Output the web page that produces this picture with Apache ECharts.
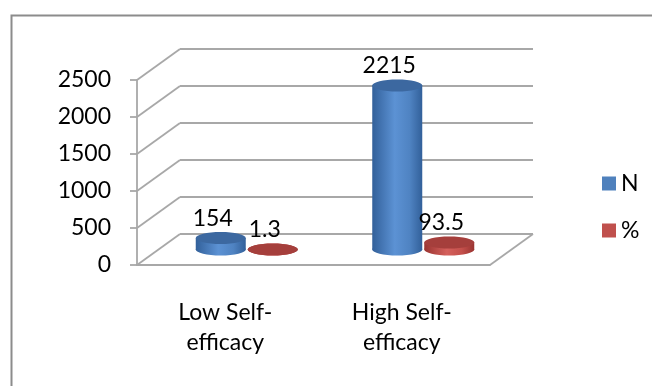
<!DOCTYPE html>
<html>
<head>
<meta charset="utf-8">
<script src="https://cdn.jsdelivr.net/npm/echarts@6/dist/echarts.min.js"></script>
<style>
  html, body { margin: 0; padding: 0; background: #fff; }
  #chart { width: 652px; height: 386px; }
</style>
</head>
<body>
<div id="chart"></div>
<script>
// data
const categories = ["Low Self-\nefficacy", "High Self-\nefficacy"];
const nValues = [154, 2215];
const pctValues = [1.3, 93.5];
const yTicks = [0, 500, 1000, 1500, 2000, 2500];

// fake 3d depth of the excel chart
const DX = 43, DY = -31;
const RX = 25, RY = 6;
const FONT = "Lato";
const FS = 23;
const GRID_COLOR = "#a8a8a8";

// back wall + floor lines
function renderWall(params, api) {
  const cs = params.coordSys;
  const p = api.coord([0, api.value(1)]);
  const y = p[1];
  const x0 = cs.x, x1 = cs.x + cs.width;
  const children = [
    { type: "line", shape: { x1: x0, y1: y, x2: x0 + DX, y2: y + DY },
      style: { stroke: GRID_COLOR, lineWidth: 1.8 } },
    { type: "line", shape: { x1: x0 + DX, y1: y + DY, x2: x1 + DX, y2: y + DY },
      style: { stroke: GRID_COLOR, lineWidth: 1.8 } }
  ];
  if (api.value(1) === 0) {
    children.push({ type: "line", shape: { x1: x1, y1: y, x2: x1 + DX, y2: y + DY },
      style: { stroke: GRID_COLOR, lineWidth: 1.8 } });
  }
  return { type: "group", children: children };
}

// cylinder for one series; side = -1 (left) or 1 (right)
function cylinder(side, c) {
  return function (params, api) {
    const base = api.coord([api.value(0), 0]);
    const top = api.coord([api.value(0), api.value(1)]);
    const cx = base[0] + DX / 2 + side * (RX + 1);
    const by = base[1] + DY / 2;
    const ty = top[1] + DY / 2;
    const body = new echarts.graphic.LinearGradient(0, 0, 1, 0, [
      { offset: 0, color: c.edge },
      { offset: 0.45, color: c.light },
      { offset: 0.75, color: c.mid },
      { offset: 1, color: c.edge }
    ]);
    return {
      type: "group",
      children: [
        { type: "ellipse", shape: { cx: cx, cy: by, rx: RX, ry: RY }, style: { fill: body } },
        { type: "rect", shape: { x: cx - RX, y: ty, width: RX * 2, height: by - ty }, style: { fill: body } },
        { type: "ellipse", shape: { cx: cx, cy: ty, rx: RX, ry: RY }, style: { fill: c.top } },
        { type: "text", x: cx - 8, y: ty - RY - 14,
          style: { text: String(api.value(1)), font: FS + "px " + FONT, fill: "#000",
                   align: "center", verticalAlign: "middle" } }
      ]
    };
  };
}

const blue = { edge: "#32609a", light: "#5c92d4", mid: "#4f83c2", top: "#3c68a0" };
const red = { edge: "#9a3431", light: "#d4605c", mid: "#c4504c", top: "#a53f3c" };

const chart = echarts.init(document.getElementById("chart"));
chart.setOption({
  animation: false,
  backgroundColor: "#fff",
  graphic: [{
    type: "rect", left: 9, top: 13, shape: { width: 700, height: 400 },
    style: { fill: "none", stroke: "#8c8c8c", lineWidth: 2 }, z: -10
  }],
  grid: { left: 137, right: 162, top: 80, bottom: 121 },
  legend: {
    data: ["N", "%"],
    orient: "vertical",
    left: 597, top: 167,
    icon: "rect",
    itemWidth: 14, itemHeight: 14,
    itemGap: 24,
    textStyle: { fontFamily: FONT, fontSize: FS, color: "#000", lineHeight: 23 }
  },
  xAxis: {
    type: "category",
    data: categories,
    axisLine: { lineStyle: { color: GRID_COLOR, width: 1.8 } },
    axisTick: { length: 7, lineStyle: { color: GRID_COLOR, width: 1.8 } },
    axisLabel: { margin: 33, fontFamily: FONT, fontSize: FS, color: "#000", lineHeight: 30 },
    splitLine: { show: false }
  },
  yAxis: {
    type: "value",
    min: 0, max: 2500, interval: 500,
    axisLine: { show: true, lineStyle: { color: GRID_COLOR, width: 1.8 } },
    axisTick: { show: true, length: 7, lineStyle: { color: GRID_COLOR, width: 1.8 } },
    axisLabel: { margin: 26, fontFamily: FONT, fontSize: FS, color: "#000",
                 formatter: v => String(v) },
    splitLine: { show: false }
  },
  series: [
    {
      name: "wall", type: "custom", silent: true, z: 1,
      renderItem: renderWall,
      data: yTicks.map(v => [0, v])
    },
    {
      name: "N", type: "custom", z: 3,
      itemStyle: { color: "#4f81bd" },
      renderItem: cylinder(-1, blue),
      data: nValues.map((v, i) => [i, v])
    },
    {
      name: "%", type: "custom", z: 3,
      itemStyle: { color: "#c0504d" },
      renderItem: cylinder(1, red),
      data: pctValues.map((v, i) => [i, v])
    }
  ]
});
</script>
</body>
</html>
